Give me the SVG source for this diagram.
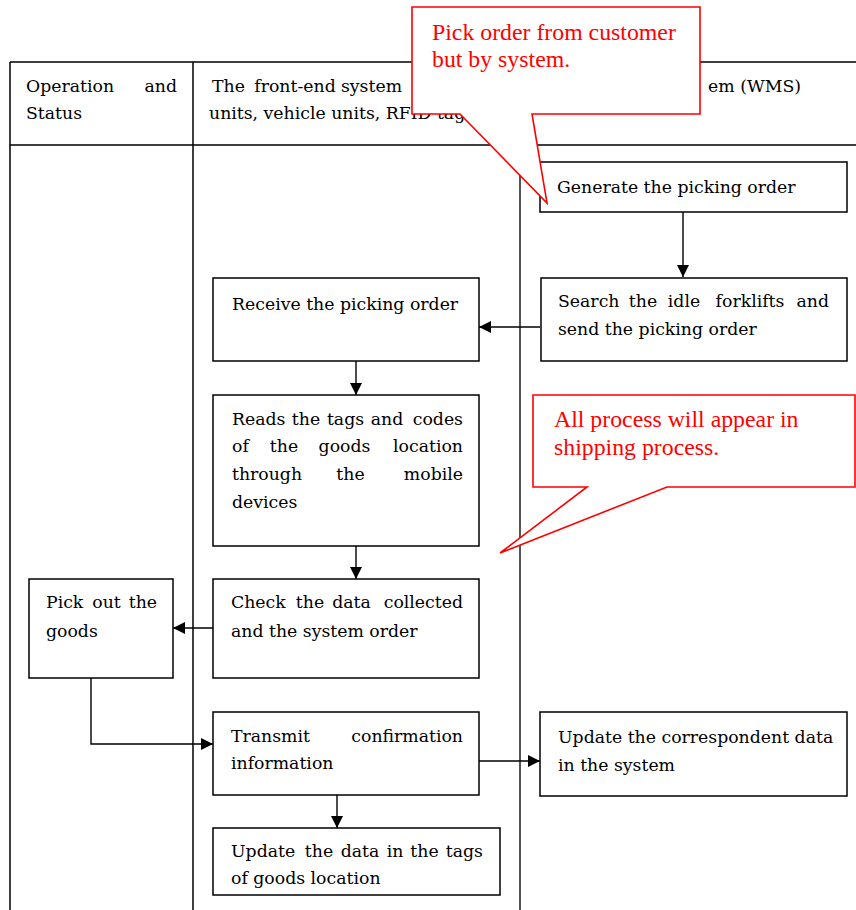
<svg xmlns="http://www.w3.org/2000/svg" width="856" height="910" viewBox="0 0 856 910">
<style>
.t{font-family:"DejaVu Serif","Liberation Serif",serif;font-size:17.3px;fill:#000}
.box{fill:#fff;stroke:#000;stroke-width:1.5}
.grid{stroke:#000;stroke-width:1.5;fill:none}
.conn{stroke:#000;stroke-width:1.4;fill:none}
.call{fill:#fff;stroke:#f00;stroke-width:1.6;stroke-linejoin:miter}
.r{font-family:"Liberation Serif","Times New Roman",serif;font-size:23.8px;fill:#f00}
.m{text-anchor:middle}
.e{text-anchor:end}
</style>
<defs>
<marker id="ah" markerUnits="userSpaceOnUse" markerWidth="12" markerHeight="12" refX="12" refY="6" orient="auto">
<path d="M0,0 L12,6 L0,12 z" fill="#000"/>
</marker>
</defs>
<rect width="856" height="910" fill="#fff"/>
<g id="table">
<path class="grid" d="M10,62 H856 M10,145 H856 M10,62 V910 M193,62 V910"/>
<path d="M520,62 V910" stroke="#555" stroke-width="2" fill="none"/>
<text class="t" x="26" y="92">Operation</text>
<text class="t e" x="177" y="92">and</text>
<text class="t" x="26" y="119">Status</text>
<text class="t" x="212" y="92">The</text>
<text class="t m" x="295" y="92">front-end</text>
<text class="t m" x="371.5" y="92">system</text>
<text class="t" x="209" y="119">units, vehicle units, RFID tags)</text>
<text class="t e" x="801" y="92">em (WMS)</text>
</g>
<g id="connectors">
<path class="conn" d="M683,212 V277" marker-end="url(#ah)"/>
<path class="conn" d="M540,327 H479" marker-end="url(#ah)"/>
<path class="conn" d="M356,361 V395" marker-end="url(#ah)"/>
<path class="conn" d="M356,546 V579" marker-end="url(#ah)"/>
<path class="conn" d="M213,628 H173" marker-end="url(#ah)"/>
<path class="conn" d="M91,678 V744 H213" marker-end="url(#ah)"/>
<path class="conn" d="M479,761 H540" marker-end="url(#ah)"/>
<path class="conn" d="M337,795 V828" marker-end="url(#ah)"/>
</g>
<g id="generate">
<rect class="box" x="540" y="162" width="307" height="50"/>
<text class="t" x="557" y="193">Generate the picking order</text>
</g>
<g id="search">
<rect class="box" x="541" y="278" width="306" height="83"/>
<text class="t" x="558" y="307">Search</text>
<text class="t m" x="643" y="307">the</text>
<text class="t m" x="684" y="307">idle</text>
<text class="t m" x="750" y="307">forklifts</text>
<text class="t e" x="829" y="307">and</text>
<text class="t" x="558" y="335">send the picking order</text>
</g>
<g id="receive">
<rect class="box" x="213" y="278" width="266" height="83"/>
<text class="t" x="232" y="310">Receive the picking order</text>
</g>
<g id="reads">
<rect class="box" x="213" y="395" width="266" height="151"/>
<text class="t" x="232" y="425">Reads</text>
<text class="t m" x="306" y="425">the</text>
<text class="t m" x="345.5" y="425">tags</text>
<text class="t m" x="387" y="425">and</text>
<text class="t e" x="463" y="425">codes</text>
<text class="t" x="232" y="452">of</text>
<text class="t m" x="284" y="452">the</text>
<text class="t m" x="344.5" y="452">goods</text>
<text class="t e" x="463" y="452">location</text>
<text class="t" x="232" y="480">through</text>
<text class="t m" x="350.5" y="480">the</text>
<text class="t e" x="463" y="480">mobile</text>
<text class="t" x="232" y="508">devices</text>
</g>
<g id="check">
<rect class="box" x="213" y="579" width="266" height="99"/>
<text class="t" x="231" y="608">Check</text>
<text class="t m" x="310" y="608">the</text>
<text class="t m" x="351.5" y="608">data</text>
<text class="t e" x="463" y="608">collected</text>
<text class="t" x="231" y="637">and the system order</text>
</g>
<g id="pick">
<rect class="box" x="29" y="579" width="144" height="99"/>
<text class="t" x="46" y="608">Pick</text>
<text class="t m" x="106.5" y="608">out</text>
<text class="t e" x="157" y="608">the</text>
<text class="t" x="46" y="637">goods</text>
</g>
<g id="transmit">
<rect class="box" x="213" y="712" width="266" height="83"/>
<text class="t" x="231" y="742">Transmit</text>
<text class="t e" x="463" y="742">confirmation</text>
<text class="t" x="231" y="769">information</text>
</g>
<g id="updatecorr">
<rect class="box" x="540" y="712" width="307" height="84"/>
<text class="t" x="558" y="743">Update the correspondent data</text>
<text class="t" x="558" y="771">in the system</text>
</g>
<g id="updatetags">
<rect class="box" x="213" y="828" width="287" height="67"/>
<text class="t" x="231" y="857">Update</text>
<text class="t m" x="319" y="857">the</text>
<text class="t m" x="360" y="857">data</text>
<text class="t m" x="395" y="857">in</text>
<text class="t m" x="424.5" y="857">the</text>
<text class="t e" x="483" y="857">tags</text>
<text class="t" x="231" y="884">of goods location</text>
</g>
<g id="callout1">
<path class="call" d="M412,7 H700 V114 H532 L547,203 L460,114 H412 Z"/>
<text class="r" x="432" y="40">Pick order from customer</text>
<text class="r" x="432" y="67">but by system.</text>
</g>
<g id="callout2">
<path class="call" d="M533,395 H855 V487 H667 L500,553 L587,487 H533 Z"/>
<text class="r" x="554" y="427">All process will appear in</text>
<text class="r" x="554" y="455">shipping process.</text>
</g>
</svg>
